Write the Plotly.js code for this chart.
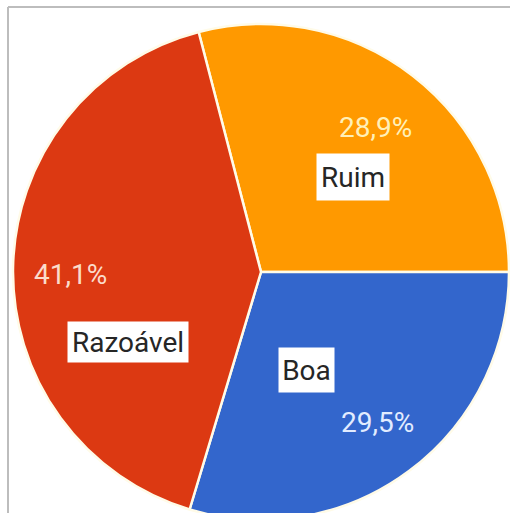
<!DOCTYPE html>
<html>
<head>
<meta charset="utf-8">
<script src="https://cdn.plot.ly/plotly-3.0.1.min.js"></script>
<style>
html,body{margin:0;padding:0;overflow:hidden;background:#fff;}
#chart{width:510px;height:530px;}
</style>
</head>
<body>
<div id="chart"></div>
<script>
// Data
const labels = ["Ruim", "Boa", "Razoável"];
const values = [28.9, 29.5, 41.1];
const colors = ["#FF9900", "#3366CC", "#DC3912"];

// Styling / placement (pixels in a 510x530 canvas)
const W = 510, H = 530;
const cx = 261, cy = 272, R = 248;
const pctPos = [[375, 127], [377, 422], [70, 274]];
const pctColors = ["#fff0b8", "#e2ecff", "#fbdccb"];
const boxPos = [[353, 177], [306, 370], [128, 342]];
const boxSize = [[72, 46], [55, 44], [120, 40]];

const fmt = v => v.toFixed(1).replace('.', ',') + '%';
const px = x => x / W;
const py = y => 1 - y / H;

const annotations = [];
labels.forEach((lab, i) => {
  annotations.push({
    xref: 'paper', yref: 'paper', x: px(pctPos[i][0]), y: py(pctPos[i][1]),
    xanchor: 'center', yanchor: 'middle', showarrow: false,
    text: fmt(values[i]),
    font: {family: 'Roboto, sans-serif', size: 28, color: pctColors[i]}
  });
  annotations.push({
    xref: 'paper', yref: 'paper', x: px(boxPos[i][0]), y: py(boxPos[i][1]),
    xanchor: 'center', yanchor: 'middle', showarrow: false,
    text: lab, bgcolor: '#ffffff', borderpad: 0,
    width: boxSize[i][0], height: boxSize[i][1],
    font: {family: 'Roboto, sans-serif', size: 28, color: '#262626'}
  });
});

const trace = {
  type: 'pie',
  labels: labels,
  values: values,
  sort: false,
  direction: 'clockwise',
  rotation: 90 - values[0] / values.reduce((a, b) => a + b, 0) * 360,
  marker: {colors: colors, line: {color: '#fffbe8', width: 2.5}},
  textinfo: 'none',
  hoverinfo: 'skip',
  domain: {x: [px(cx - R), px(cx + R)], y: [1 - (cy + R) / H, 1 - (cy - R) / H]}
};

const layout = {
  width: W, height: H,
  margin: {l: 0, r: 0, t: 0, b: 0},
  paper_bgcolor: '#ffffff',
  showlegend: false,
  annotations: annotations,
  shapes: [
    {type: 'line', xref: 'paper', yref: 'paper', x0: px(8), x1: 1, y0: py(7), y1: py(7), line: {color: '#bdbdbd', width: 2}},
    {type: 'line', xref: 'paper', yref: 'paper', x0: px(8), x1: px(8), y0: py(7), y1: 0, line: {color: '#bdbdbd', width: 2}}
  ]
};

Plotly.newPlot('chart', [trace], layout, {staticPlot: true, displayModeBar: false});
</script>
</body>
</html>
